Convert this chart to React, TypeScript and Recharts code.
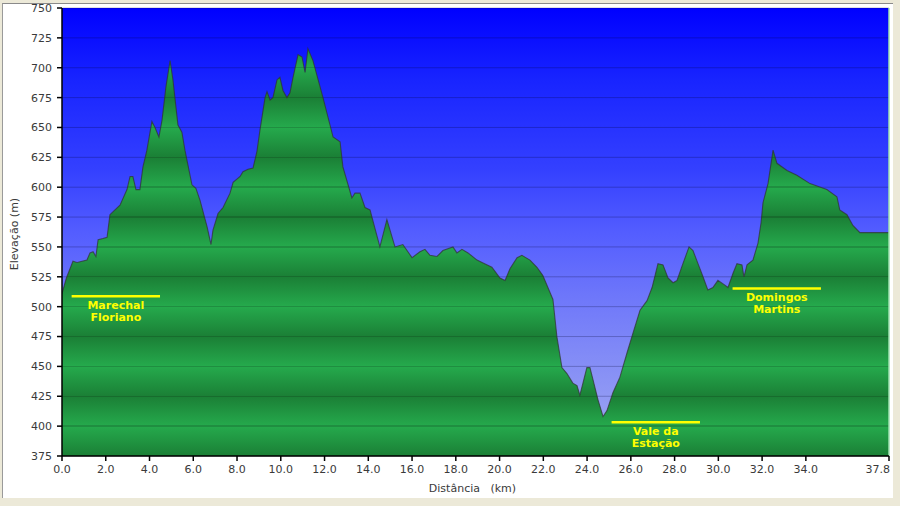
import React from 'react';
import { ComposedChart, Area, XAxis, YAxis, CartesianGrid, ReferenceLine } from 'recharts';

const kmValues = [0, 0.2, 0.5, 0.69, 1.14, 1.28, 1.42, 1.55, 1.65, 1.87,
  2.06, 2.19, 2.42, 2.65, 2.97, 3.11, 3.24, 3.38, 3.56, 3.70,
  3.88, 4.11, 4.25, 4.43, 4.57, 4.75, 4.94, 5.07, 5.30, 5.48,
  5.62, 5.94, 6.12, 6.31, 6.63, 6.81, 6.90, 7.13, 7.36, 7.68,
  7.82, 8.14, 8.27, 8.50, 8.73, 8.91, 9.05, 9.28, 9.37, 9.51,
  9.64, 9.83, 9.96, 10.10, 10.28, 10.42, 10.56, 10.79, 10.97, 11.11,
  11.24, 11.47, 11.93, 12.39, 12.71, 12.84, 13.25, 13.39, 13.62, 13.85,
  14.08, 14.53, 14.85, 15.22, 15.58, 16.00, 16.36, 16.59, 16.82, 17.14,
  17.41, 17.87, 18.05, 18.28, 18.56, 18.97, 19.20, 19.65, 20.02, 20.25,
  20.48, 20.80, 21.02, 21.39, 21.71, 21.98, 22.21, 22.44, 22.62, 22.85,
  23.08, 23.35, 23.54, 23.67, 23.81, 23.99, 24.13, 24.27, 24.50, 24.73,
  24.91, 25.18, 25.50, 25.82, 26.10, 26.42, 26.74, 26.97, 27.24, 27.47,
  27.70, 27.93, 28.11, 28.38, 28.66, 28.84, 29.07, 29.30, 29.52, 29.75,
  29.98, 30.30, 30.44, 30.67, 30.85, 31.08, 31.17, 31.31, 31.58, 31.81,
  31.95, 32.04, 32.27, 32.50, 32.68, 33.14, 33.59, 34.19, 34.96, 35.42,
  35.55, 35.88, 36.15, 36.47, 36.79, 37.75, 37.8];

const elevValues = [511, 524, 538, 537, 539, 545, 546, 542, 556, 557,
  558, 577, 581, 585, 598, 609, 609, 598, 598, 617,
  631, 655, 650, 642, 656, 684, 706, 690, 652, 646,
  631, 602, 599, 589, 567, 552, 564, 578, 583, 595,
  604, 609, 613, 615, 616, 630, 648, 675, 680, 673,
  675, 690, 692, 681, 675, 679, 692, 711, 709, 696,
  716, 706, 675, 642, 638, 617, 591, 595, 595, 583,
  581, 550, 573, 550, 552, 541, 546, 548, 543, 542,
  547, 550, 545, 548, 545, 539, 537, 533, 524, 522,
  532, 541, 543, 539, 533, 526, 516, 506, 475, 449,
  444, 436, 434, 426, 436, 449, 449, 439, 422, 408,
  413, 428, 441, 461, 478, 497, 505, 516, 536, 535,
  524, 520, 522, 536, 550, 547, 536, 525, 514, 516,
  522, 518, 516, 528, 536, 535, 525, 535, 539, 553,
  570, 587, 603, 631, 620, 614, 610, 603, 598, 592,
  581, 577, 568, 562, 562, 562, 562];

const xTicks = [0, 2, 4, 6, 8, 10, 12, 14, 16, 18, 20, 22, 24, 26, 28, 30, 32, 34, 37.8];
const yTicks = [375, 400, 425, 450, 475, 500, 525, 550, 575, 600, 625, 650, 675, 700, 725, 750];

const placeNames = [['Marechal', 'Floriano'], ['Vale da', 'Estação'], ['Domingos', 'Martins']];
const placeStartKm = [0.44, 25.12, 30.65];
const placeEndKm = [4.48, 29.16, 34.69];
const placeElev = [508.7, 403.2, 515.3];

const data = kmValues.map((km, i) => ({ km, elev: elevValues[i] }));

const W = 900;
const H = 506;
const M = { top: 8, right: 11, bottom: 20, left: 0 };
const Y_AXIS_W = 62;
const X_AXIS_H = 30;
const PLOT_TOP = M.top;
const PLOT_BOTTOM = H - M.bottom - X_AXIS_H;
const FONT = '"DejaVu Sans", Verdana, sans-serif';
const TEXT_COLOR = '#3a3a3a';

const LIGHT = [37, 169, 76];
const DARK = [27, 128, 54];
const toHex = (c: number[]) => '#' + c.map((v) => Math.round(Math.max(0, Math.min(255, v))).toString(16).padStart(2, '0')).join('');
const darken = (c: number[], f: number) => c.map((v) => v * f);

function groundStops() {
  const n = yTicks.length - 1;
  const eps = 0.7 / (PLOT_BOTTOM - PLOT_TOP);
  const stops: { o: number; c: string }[] = [];
  for (let k = 0; k <= n; k++) {
    const base = k % 2 === 1 ? DARK : LIGHT;
    const line = darken(base, 0.84);
    const o = k / n;
    stops.push({ o: Math.max(0, o - eps), c: toHex(base) });
    stops.push({ o: Math.max(0, o - eps), c: toHex(line) });
    stops.push({ o: Math.min(1, o + eps), c: toHex(line) });
    stops.push({ o: Math.min(1, o + eps), c: toHex(base) });
  }
  return stops;
}

const AnnotLabel = (lines: string[]) => (props: any) => {
  const vb = props && props.viewBox;
  if (!vb) return null;
  const cx = vb.x + (vb.width || 0) / 2;
  const y = vb.y;
  return (
    <g>
      {lines.map((t, i) => (
        <text key={i} x={cx} y={y + 13 + i * 12} textAnchor="middle" fill="#FFFF00"
          fontFamily={FONT} fontSize={11} fontWeight="bold">{t}</text>
      ))}
    </g>
  );
};

const XTick = (props: any) => {
  const { x, y, payload, index } = props;
  const last = index === xTicks.length - 1;
  return (
    <text x={last ? x + 1 : x} y={y} dy="0.71em" textAnchor={last ? 'end' : 'middle'}
      fill={TEXT_COLOR} fontFamily={FONT} fontSize={11}>{Number(payload.value).toFixed(1)}</text>
  );
};

const YLabel = (props: any) => {
  const vb = props.viewBox;
  if (!vb) return null;
  const x = vb.x + 14;
  const y = vb.y + vb.height / 2 + 2;
  return (
    <text x={x} y={y} transform={`rotate(-90, ${x}, ${y})`} textAnchor="middle" dominantBaseline="central"
      fill={TEXT_COLOR} fontFamily={FONT} fontSize={11}>Elevação (m)</text>
  );
};

const XLabel = (props: any) => {
  const vb = props.viewBox;
  if (!vb) return null;
  const x = vb.x + vb.width / 2 - 3;
  const y = vb.y + 36;
  return (
    <text x={x} y={y} textAnchor="middle" fill={TEXT_COLOR} fontFamily={FONT} fontSize={11}
      style={{ whiteSpace: 'pre' }} xmlSpace="preserve">{'Distância   (km)'}</text>
  );
};

export default function App() {
  const stops = groundStops();
  return (
    <div style={{ position: 'absolute', left: 0, top: 0, width: W, height: H, background: '#ECE9D8', overflow: 'hidden' }}>
      <div style={{ position: 'absolute', left: 2, top: 3, width: 891, height: 495, background: '#fff', borderTop: '1px solid #8a8a8a', borderLeft: '1px solid #9a9a9a', boxSizing: 'border-box' }} />
      <div style={{ position: 'absolute', left: 0, top: 0 }}>
        <ComposedChart width={W} height={H} data={data} margin={M}>
          <defs>
            <linearGradient id="skyGrad" x1="0" y1="0" x2="0" y2="1">
              <stop offset="0" stopColor="#0000FF" />
              <stop offset="0.16" stopColor="#1824FF" />
              <stop offset="0.36" stopColor="#3440FF" />
              <stop offset="0.5" stopColor="#535DFF" />
              <stop offset="0.65" stopColor="#6F78FA" />
              <stop offset="0.83" stopColor="#8A93F5" />
              <stop offset="1" stopColor="#A4ACF0" />
            </linearGradient>
            <linearGradient id="groundGrad" gradientUnits="userSpaceOnUse" x1="0" y1={PLOT_TOP} x2="0" y2={PLOT_BOTTOM}>
              {stops.map((s, i) => (
                <stop key={i} offset={s.o} stopColor={s.c} />
              ))}
            </linearGradient>
          </defs>
          <CartesianGrid vertical={false} fill="url(#skyGrad)" fillOpacity={1} stroke="#000033" strokeOpacity={0.25} />
          <XAxis type="number" dataKey="km" domain={[0, 37.8]} ticks={xTicks} interval={0}
            height={X_AXIS_H} tickSize={5} tickMargin={4}
            axisLine={{ stroke: '#000', strokeWidth: 1.5 }} tickLine={{ stroke: '#000', strokeWidth: 1.5 }}
            tick={<XTick />} allowDataOverflow
            label={<XLabel />} />
          <YAxis type="number" domain={[375, 750]} ticks={yTicks} interval={0} width={Y_AXIS_W}
            tickSize={5} tickMargin={5}
            axisLine={{ stroke: '#000', strokeWidth: 1.5 }} tickLine={{ stroke: '#000', strokeWidth: 1.5 }}
            tick={{ fill: TEXT_COLOR, fontSize: 11, fontFamily: FONT }} allowDataOverflow
            label={<YLabel />} />
          <Area type="linear" dataKey="elev" isAnimationActive={false} fill="url(#groundGrad)" fillOpacity={1}
            stroke="#303030" strokeOpacity={0.7} strokeWidth={1.1} dot={false} activeDot={false} />
          <ReferenceLine x={37.8} stroke="#9fe0b0" strokeWidth={1.5} />
          {placeNames.map((lines, i) => (
            <ReferenceLine key={i}
              segment={[{ x: placeStartKm[i], y: placeElev[i] }, { x: placeEndKm[i], y: placeElev[i] }]}
              stroke="#FFFF00" strokeWidth={2.5}
              label={{ content: AnnotLabel(lines) } as any} />
          ))}
        </ComposedChart>
      </div>
    </div>
  );
}
